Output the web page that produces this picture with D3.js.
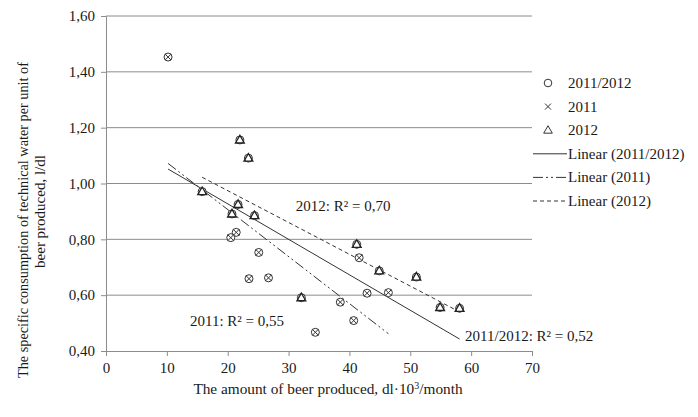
<!DOCTYPE html>
<html>
<head>
<meta charset="utf-8">
<script src="https://cdn.jsdelivr.net/npm/d3@7"></script>
<style>
  body { margin: 0; background: #fff; }
  svg text { font-family: "Liberation Serif", "Times New Roman", serif; fill: #1a1a1a; }
</style>
</head>
<body>
<script>
// data
var x2011 = [10.2, 21.4, 20.5, 25.1, 23.5, 26.7, 38.5, 40.7, 34.4, 41.6, 42.9, 46.4];
var y2011 = [1.453, 0.825, 0.806, 0.753, 0.659, 0.662, 0.575, 0.509, 0.467, 0.734, 0.607, 0.609];
var x2012 = [22.0, 23.4, 15.8, 21.7, 20.7, 24.4, 32.1, 41.2, 44.9, 51.0, 54.9, 58.1];
var y2012 = [1.156, 1.091, 0.971, 0.925, 0.891, 0.885, 0.591, 0.782, 0.687, 0.665, 0.556, 0.553];
var xTicks = [0, 10, 20, 30, 40, 50, 60, 70];
var yTicks = [0.4, 0.6, 0.8, 1.0, 1.2, 1.4, 1.6];
var legendNames = ["2011/2012", "2011", "2012", "Linear (2011/2012)", "Linear (2011)", "Linear (2012)"];

var width = 698, height = 417;
var mLeft = 106, mRight = 532, mTop = 16, mBottom = 351;

var svg = d3.select("body").append("svg")
    .attr("width", width)
    .attr("height", height);

var x = d3.scaleLinear().domain([0, 70]).range([mLeft, mRight]);
var y = d3.scaleLinear().domain([0.4, 1.6]).range([mBottom, mTop]);

var pts2011 = x2011.map(function (d, i) { return [d, y2011[i]]; });
var pts2012 = x2012.map(function (d, i) { return [d, y2012[i]]; });
var ptsAll = pts2011.concat(pts2012);

function fmt(v) { return v.toFixed(2).replace(".", ","); }

// least squares fit, like excel's linear trendline
function fit(pts) {
  var mx = d3.mean(pts, function (d) { return d[0]; }),
      my = d3.mean(pts, function (d) { return d[1]; });
  var sxy = 0, sxx = 0, syy = 0;
  pts.forEach(function (d) {
    sxy += (d[0] - mx) * (d[1] - my);
    sxx += (d[0] - mx) * (d[0] - mx);
    syy += (d[1] - my) * (d[1] - my);
  });
  var b = sxy / sxx;
  return { a: my - b * mx, b: b, r2: sxy * sxy / (sxx * syy),
           x0: d3.min(pts, function (d) { return d[0]; }),
           x1: d3.max(pts, function (d) { return d[0]; }) };
}

// grid
svg.append("g").selectAll("line")
  .data(yTicks.slice(1))
  .enter().append("line")
  .attr("x1", mLeft).attr("x2", mRight)
  .attr("y1", function (d) { return y(d); })
  .attr("y2", function (d) { return y(d); })
  .attr("stroke", "#8c8c8c").attr("stroke-width", 1);

// axes
var xAxis = svg.append("g")
  .attr("transform", "translate(0," + mBottom + ")")
  .call(d3.axisBottom(x).tickValues(xTicks).tickSize(5).tickPadding(6));
var yAxis = svg.append("g")
  .attr("transform", "translate(" + mLeft + ",0)")
  .call(d3.axisLeft(y).tickValues(yTicks).tickSize(5).tickPadding(6).tickFormat(fmt));

[xAxis, yAxis].forEach(function (g) {
  g.select(".domain").attr("stroke", "#8c8c8c");
  g.selectAll(".tick line").attr("stroke", "#8c8c8c");
  g.selectAll("text").attr("font-size", 15).attr("fill", "#1a1a1a")
    .style("font-family", '"Liberation Serif", serif');
});

// trendlines
var fits = [
  { f: fit(ptsAll), dash: null },
  { f: fit(pts2011), dash: "10,3,2,3,2,3" },
  { f: fit(pts2012), dash: "4,3" }
];
svg.append("g").selectAll("line")
  .data(fits)
  .enter().append("line")
  .attr("x1", function (d) { return x(d.f.x0); })
  .attr("x2", function (d) { return x(d.f.x1); })
  .attr("y1", function (d) { return y(d.f.a + d.f.b * d.f.x0); })
  .attr("y2", function (d) { return y(d.f.a + d.f.b * d.f.x1); })
  .attr("stroke", "#333").attr("stroke-width", 1)
  .attr("stroke-dasharray", function (d) { return d.dash; });

// markers
var mk = svg.append("g");
mk.selectAll("circle")
  .data(ptsAll)
  .enter().append("circle")
  .attr("cx", function (d) { return x(d[0]); })
  .attr("cy", function (d) { return y(d[1]); })
  .attr("r", 4)
  .attr("fill", "#fff").attr("stroke", "#333").attr("stroke-width", 1);

mk.selectAll("path.cross")
  .data(pts2011)
  .enter().append("path")
  .attr("class", "cross")
  .attr("transform", function (d) { return "translate(" + x(d[0]) + "," + y(d[1]) + ")"; })
  .attr("d", "M-3,-3L3,3M-3,3L3,-3")
  .attr("stroke", "#333").attr("stroke-width", 1).attr("fill", "none");

mk.selectAll("path.tri")
  .data(pts2012)
  .enter().append("path")
  .attr("class", "tri")
  .attr("transform", function (d) { return "translate(" + x(d[0]) + "," + (y(d[1]) + 0.5) + ")"; })
  .attr("d", d3.symbol().type(d3.symbolTriangle).size(34))
  .attr("stroke", "#222").attr("stroke-width", 1.3).attr("fill", "none");

// R² labels
var r2Labels = [
  { t: "2011/2012: R\u00b2 = " + fmt(fits[0].f.r2), x: 59.0, y: 0.436 },
  { t: "2011: R\u00b2 = " + fmt(fits[1].f.r2), x: 13.8, y: 0.49 },
  { t: "2012: R\u00b2 = " + fmt(fits[2].f.r2), x: 31.2, y: 0.901 }
];
svg.append("g").selectAll("text")
  .data(r2Labels)
  .enter().append("text")
  .attr("x", function (d) { return x(d.x); })
  .attr("y", function (d) { return y(d.y); })
  .attr("font-size", 15)
  .text(function (d) { return d.t; });

// legend
var lg = svg.append("g").attr("transform", "translate(533,83)");
var item = lg.selectAll("g")
  .data(legendNames)
  .enter().append("g")
  .attr("transform", function (d, i) { return "translate(0," + (i * 23.6) + ")"; });
item.append("text")
  .attr("x", 35).attr("y", 5)
  .attr("font-size", 15)
  .text(function (d) { return d; });
item.each(function (d, i) {
  var g = d3.select(this);
  if (i === 0) {
    g.append("circle").attr("cx", 15).attr("cy", 0).attr("r", 3.8)
      .attr("fill", "none").attr("stroke", "#333");
  } else if (i === 1) {
    g.append("path").attr("d", "M12,-3L18,3M12,3L18,-3").attr("stroke", "#333");
  } else if (i === 2) {
    g.append("path").attr("transform", "translate(15,0.5)")
      .attr("d", d3.symbol().type(d3.symbolTriangle).size(32))
      .attr("fill", "none").attr("stroke", "#333");
  } else {
    g.append("line").attr("x1", 0).attr("x2", 34).attr("y1", 0).attr("y2", 0)
      .attr("stroke", "#333").attr("stroke-width", 1)
      .attr("stroke-dasharray", fits[i - 3].dash);
  }
});

// axis titles
svg.append("text")
  .attr("x", 328).attr("y", 394)
  .attr("text-anchor", "middle")
  .attr("font-size", 15.3)
  .html("The amount of beer produced, dl\u00b710<tspan dy='-5' font-size='10'>3</tspan><tspan dy='5'>/month</tspan>");

var yt = svg.append("text")
  .attr("transform", "translate(27.5,0) rotate(-90)")
  .attr("text-anchor", "middle")
  .attr("font-size", 15);
yt.append("tspan").attr("x", -220).attr("y", 0)
  .attr("textLength", 316).attr("lengthAdjust", "spacingAndGlyphs")
  .text("The specific consumption of technical water per unit of");
yt.append("tspan").attr("x", -211.5).attr("y", 17.5)
  .text("beer produced, l/dl");
</script>
</body>
</html>
